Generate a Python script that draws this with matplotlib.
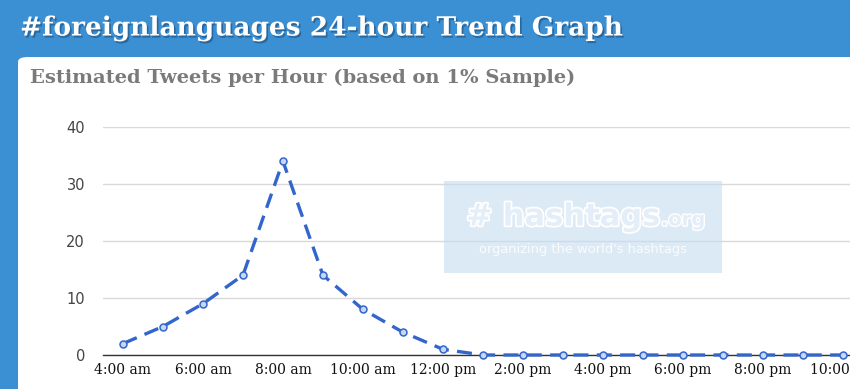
"""
#foreignlanguages 24-hour trend graph, redrawn
"""

import matplotlib
matplotlib.use('Agg')
from matplotlib import pyplot as plt
from matplotlib.patches import FancyBboxPatch, Rectangle
import matplotlib.patheffects as pe


# data: hour of day and estimated tweets per hour
hours = [4, 5, 6, 7, 8, 9, 10, 11, 12, 13, 14, 15, 16, 17, 18, 19, 20, 21, 22]
tweets = [2, 5, 9, 14, 34, 14, 8, 4, 1, 0, 0, 0, 0, 0, 0, 0, 0, 0, 0]

tick_hours = [4, 6, 8, 10, 12, 14, 16, 18, 20, 22]
tick_labels = ['4:00 am', '6:00 am', '8:00 am', '10:00 am', '12:00 pm',
               '2:00 pm', '4:00 pm', '6:00 pm', '8:00 pm', '10:00 pm']
y_ticks = [0, 10, 20, 30, 40]

W, H = 850, 389
BLUE = '#3b8fd3'
LINE = '#3366cc'

fig = plt.figure(figsize=(W / 100, H / 100), dpi=100, facecolor=BLUE)


def fx(px):
    return px / W


def fy(py):
    return 1 - py / H


# white card
card = FancyBboxPatch((fx(18), -0.05), 1.0, fy(57) + 0.05,
                      boxstyle='round,pad=0,rounding_size=0.012',
                      transform=fig.transFigure, facecolor='white',
                      edgecolor='none', zorder=-1)
fig.patches.append(card)

# header + subtitle
fig.text(fx(20), fy(28), '#foreignlanguages 24-hour Trend Graph',
         color='white', fontsize=19, fontweight='bold', family='DejaVu Serif',
         va='center', ha='left',
         path_effects=[pe.withSimplePatchShadow(offset=(1.2, -1.5),
                                                shadow_rgbFace='#1d4f7a',
                                                alpha=0.6)])
fig.text(fx(30), fy(78), 'Estimated Tweets per Hour (based on 1% Sample)',
         color='#7a7a7a', fontsize=14, fontweight='bold',
         family='DejaVu Serif', va='center', ha='left')

# plot area
ax = fig.add_axes([fx(103), fy(355), 1 - fx(103), fy(127) - fy(355)])
ax.set_zorder(1)
ax.set_facecolor('none')
ax.plot(hours, tweets, color=LINE, lw=2.4, dashes=(4.5, 2.5),
        marker='o', ms=5, mfc='#c9d6f2', mec=LINE, mew=1.1,
        clip_on=False, zorder=5)

ax.set_xlim(3.5, 22.18)
ax.set_ylim(0, 40)
ax.set_yticks(y_ticks)
ax.set_xticks(tick_hours)
ax.set_xticklabels(tick_labels, family='DejaVu Serif', fontsize=10)
ax.tick_params(axis='x', length=0, pad=6, colors='#111111')
ax.tick_params(axis='y', length=0, pad=13, labelsize=10.5, colors='#444444')
for lbl in ax.get_yticklabels():
    lbl.set_family('DejaVu Sans')
    lbl.set_ha('right')
ax.grid(axis='y', color='#d9d9d9', lw=1)
ax.set_axisbelow(True)
for s in ['top', 'right', 'left']:
    ax.spines[s].set_visible(False)
ax.spines['bottom'].set_color('#333333')
ax.spines['bottom'].set_linewidth(1)

# watermark box
wm = Rectangle((fx(444), fy(273)), fx(722) - fx(444), fy(181) - fy(273),
               transform=fig.transFigure, facecolor='#c6dcf1', alpha=0.6,
               edgecolor='none', zorder=3)
fig.patches.append(wm)
fig.text(fx(660), fy(217), '# hashtags', color='#e4eef8', fontsize=22,
         fontweight='bold', ha='right', va='center', family='DejaVu Sans',
         path_effects=[pe.withStroke(linewidth=2.5, foreground='white')],
         zorder=4)
fig.text(fx(661), fy(220), '.org', color='#e4eef8', fontsize=14,
         fontweight='bold', ha='left', va='center', family='DejaVu Sans',
         path_effects=[pe.withStroke(linewidth=2, foreground='white')],
         zorder=4)
fig.text(fx(583), fy(250), "organizing the world's hashtags", color='white',
         fontsize=9.4, ha='center', va='center', family='DejaVu Sans',
         alpha=0.85, zorder=4)

fig.savefig('out.png', dpi=100, facecolor=BLUE)
